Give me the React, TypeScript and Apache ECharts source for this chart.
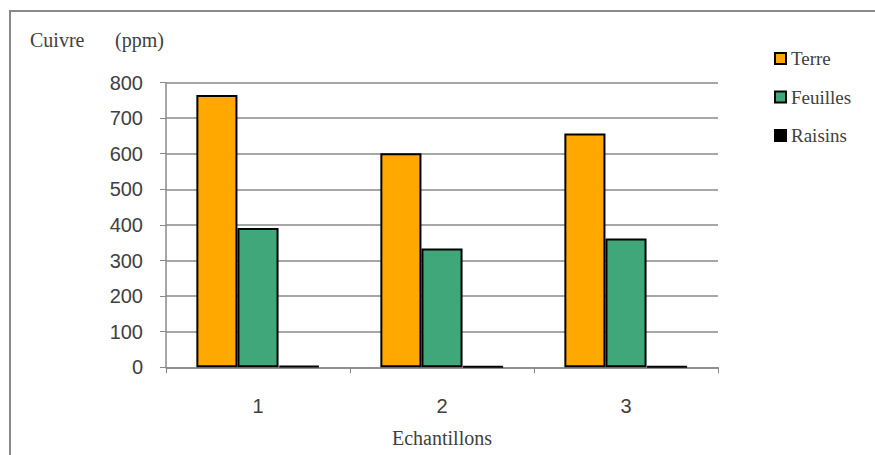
import React, { useEffect, useRef } from "react";
import * as echarts from "echarts";

const categories = ["1", "2", "3"];
const terre = [765, 601, 657];
const feuilles = [391, 334, 362];
const raisins = [4, 3, 3];
const seriesNames = ["Terre", "Feuilles", "Raisins"];
const yTicks = { min: 0, max: 800, interval: 100 };

export default function App() {
  const ref = useRef<HTMLDivElement>(null);
  useEffect(() => {
    if (!ref.current) return;
    const chart = echarts.init(ref.current, null, { renderer: "svg" });
    const serif = "Liberation Serif";
    const sans = "Liberation Sans";
    const txt = "#404040";
    const colors = ["#FFA800", "#3FA77A", "#000000"];
    const datas = [terre, feuilles, raisins];
    const legendText = { fontFamily: serif, fontSize: 19, color: txt };
    chart.setOption({
      animation: false,
      backgroundColor: "#ffffff",
      textStyle: { fontFamily: sans },
      grid: { left: 166, right: 157, top: 82.5, bottom: 87.7, containLabel: false },
      legend: {
        orient: "vertical",
        left: 769,
        top: 44,
        itemWidth: 11,
        itemHeight: 11,
        itemGap: 19.5,
        itemTextGap: 3,
        icon: "rect",
        formatter: "{s|{name}}",
        textStyle: { ...legendText, rich: { s: legendText } },
        data: seriesNames,
      },
      xAxis: {
        type: "category",
        data: categories,
        name: "Echantillons",
        nameLocation: "middle",
        nameGap: 61,
        nameTextStyle: { fontFamily: serif, fontSize: 20, color: txt },
        axisLine: { lineStyle: { color: "#888888", width: 1.5 } },
        axisTick: { show: true, length: 6, lineStyle: { color: "#888888" } },
        axisLabel: { fontFamily: sans, fontSize: 20, color: txt, margin: 29 },
      },
      yAxis: {
        type: "value",
        min: yTicks.min,
        max: yTicks.max,
        interval: yTicks.interval,
        axisLine: { show: true, lineStyle: { color: "#888888", width: 1.5 } },
        axisTick: { show: true, length: 6, lineStyle: { color: "#888888" } },
        axisLabel: { fontFamily: sans, fontSize: 20, color: txt, margin: 23 },
        splitLine: { show: true, lineStyle: { color: "#8a8a8a", width: 1.5 } },
      },
      series: seriesNames.map((name, i) => ({
        name,
        type: "bar",
        data: datas[i],
        barGap: "0%",
        barCategoryGap: "33%",
        itemStyle: { color: colors[i], borderColor: "#000000", borderWidth: 2 },
      })),
      graphic: [
        { type: "line", shape: { x1: 9, y1: 11, x2: 875, y2: 11 }, style: { stroke: "#8a8a8a", lineWidth: 2 } },
        { type: "line", shape: { x1: 10, y1: 10, x2: 10, y2: 455 }, style: { stroke: "#8a8a8a", lineWidth: 2 } },
        { type: "text", left: 30, top: 30, style: { text: "Cuivre", font: `20px '${serif}'`, fill: txt } },
        { type: "text", left: 115, top: 30, style: { text: "(ppm)", font: `20px '${serif}'`, fill: txt } },
      ],
    });
    return () => chart.dispose();
  }, []);
  return (
    <div
      ref={ref}
      style={{ position: "fixed", left: 0, top: 0, width: 875, height: 455 }}
    />
  );
}
